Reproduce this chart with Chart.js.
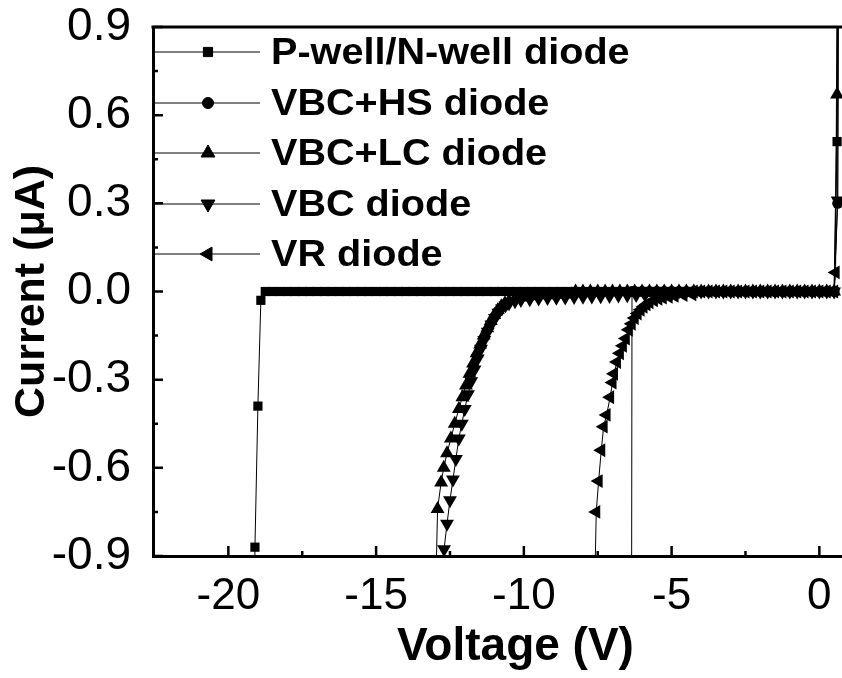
<!DOCTYPE html>
<html>
<head>
<meta charset="utf-8">
<script src="https://cdn.jsdelivr.net/npm/chart.js@4/dist/chart.umd.min.js"></script>
<style>
  html, body { margin: 0; padding: 0; background: #fff; overflow: hidden; }
  #wrap { width: 842px; height: 678px; overflow: hidden; }
</style>
</head>
<body>
<div id="wrap"><canvas id="myChart" width="886" height="678"></canvas></div>
<script>
// series names
const labels = ['P-well/N-well diode', 'VBC+HS diode', 'VBC+LC diode', 'VBC diode', 'VR diode'];

// voltage sweep used for the flat (zero current) part of every curve
const sweepV = [-18.75, -18.5, -18.25, -18, -17.75, -17.5, -17.25, -17, -16.75, -16.5, -16.25, -16,
  -15.75, -15.5, -15.25, -15, -14.75, -14.5, -14.25, -14, -13.75, -13.5, -13.25, -13,
  -12.75, -12.5, -12.25, -12, -11.75, -11.5, -11.25, -11, -10.75, -10.5, -10.25, -10,
  -9.75, -9.5, -9.25, -9, -8.75, -8.5, -8.25, -8, -7.75, -7.5, -7.25, -7,
  -6.75, -6.5, -6.25, -6, -5.75, -5.5, -5.25, -5, -4.75, -4.5, -4.25, -4,
  -3.75, -3.5, -3.25, -3, -2.75, -2.5, -2.25, -2, -1.75, -1.5, -1.25, -1,
  -0.75, -0.5, -0.25, 0, 0.25, 0.5];

// P-well/N-well diode
const pwellRevV = [-19.15, -19.1, -19.0, -18.9];
const pwellRevI = [-1.5, -0.87, -0.39, -0.03];
const pwellFwdV = [0.6, 0.65];
const pwellFwdI = [0.51, 1.5];

// VBC+HS diode
const hsRevV = [-6.36, -6.34];
const hsRevI = [-1.5, 0];
const hsFwdV = [0.62, 0.66];
const hsFwdI = [0.3, 1.5];

// VBC+LC diode
const lcRevV = [-13.0, -12.92, -12.8, -12.71, -12.6, -12.47, -12.34, -12.2, -12.08, -11.96, -11.84,
  -11.72, -11.6, -11.48, -11.36, -11.24, -11.12, -11.0, -10.88, -10.76, -10.64, -10.5, -10.3,
  -10.0, -9.6, -9.2, -8.8, -8.4];
const lcRevI = [-1.1, -0.74, -0.65, -0.6, -0.55, -0.5, -0.45, -0.4, -0.36, -0.32, -0.28,
  -0.245, -0.21, -0.18, -0.15, -0.125, -0.1, -0.08, -0.063, -0.05, -0.04, -0.032, -0.025,
  -0.02, -0.016, -0.013, -0.011, -0.01];
const lcFwdV = [0.6, 0.64];
const lcFwdI = [0.67, 1.5];

// VBC diode
const vbcRevV = [-12.78, -12.7, -12.6, -12.5, -12.4, -12.3, -12.2, -12.1, -12.0, -11.89, -11.78,
  -11.67, -11.56, -11.45, -11.34, -11.22, -11.1, -10.98, -10.86, -10.74, -10.62, -10.5, -10.3,
  -10.1, -9.8, -9.5, -9.2, -8.9, -8.6, -8.3, -8.0, -7.7, -7.4, -7.1, -6.8, -6.5, -6.2, -5.9,
  -5.6, -5.3, -5.0];
const vbcRevI = [-1.1, -0.877, -0.79, -0.71, -0.64, -0.57, -0.5, -0.45, -0.4, -0.35, -0.305,
  -0.265, -0.228, -0.195, -0.165, -0.137, -0.112, -0.09, -0.072, -0.058, -0.047, -0.04, -0.033,
  -0.029, -0.026, -0.024, -0.022, -0.021, -0.02, -0.019, -0.018, -0.017, -0.016, -0.015, -0.014,
  -0.013, -0.012, -0.011, -0.01, -0.009, -0.008];
const vbcFwdV = [0.62, 0.66];
const vbcFwdI = [0.31, 1.5];

// VR diode
const vrRevV = [-7.62, -7.55, -7.47, -7.38, -7.3, -7.2, -7.08, -7.0, -6.95, -6.85, -6.75, -6.65,
  -6.55, -6.45, -6.35, -6.25, -6.15, -6.05, -5.95, -5.85, -5.75, -5.6, -5.45, -5.3, -5.1,
  -4.9, -4.6, -4.3];
const vrRevI = [-1.1, -0.75, -0.645, -0.54, -0.46, -0.42, -0.36, -0.31, -0.28, -0.24, -0.21, -0.185,
  -0.16, -0.13, -0.11, -0.09, -0.075, -0.062, -0.052, -0.044, -0.037, -0.03, -0.025, -0.021, -0.018,
  -0.015, -0.012, -0.01];
const vrFwdV = [0.55, 0.62];
const vrFwdI = [0.065, 1.5];

const xMin = -22.55;
const pxPerVolt = 29.55;   // horizontal scale of the original figure (right part cropped)

function curve(revV, revI, fwdV, fwdI) {
  const pts = revV.map((v, i) => ({x: v, y: revI[i]}));
  const last = revV[revV.length - 1];
  sweepV.filter(v => v > last).forEach(v => pts.push({x: v, y: 0}));
  fwdV.forEach((v, i) => pts.push({x: v, y: fwdI[i]}));
  return pts;
}

const markers = [
  {style: 'rect', radius: 6.5, rotation: 0},
  {style: 'circle', radius: 5.5, rotation: 0},
  {style: 'triangle', radius: 8, rotation: 0},
  {style: 'triangle', radius: 8, rotation: 180},
  {style: 'triangle', radius: 8, rotation: -90}
];

const allData = [
  curve(pwellRevV, pwellRevI, pwellFwdV, pwellFwdI),
  curve(hsRevV, hsRevI, hsFwdV, hsFwdI),
  curve(lcRevV, lcRevI, lcFwdV, lcFwdI),
  curve(vbcRevV, vbcRevI, vbcFwdV, vbcFwdI),
  curve(vrRevV, vrRevI, vrFwdV, vrFwdI)
];

const FONT = 'Liberation Sans, Arial, sans-serif';

// ticks pointing inwards + minor ticks + top frame line + legend
const frame = {
  id: 'frame',
  afterDraw(chart) {
    const ctx = chart.ctx;
    const a = chart.chartArea;
    const xs = chart.scales.x, ys = chart.scales.y;
    ctx.save();
    ctx.strokeStyle = '#000';
    ctx.lineWidth = 2.5;
    ctx.beginPath();
    for (let v = -20; v <= 0; v += 2.5) {
      const px = xs.getPixelForValue(v);
      const len = (v % 5 === 0) ? 10 : 5;
      ctx.moveTo(px, a.bottom);
      ctx.lineTo(px, a.bottom - len);
    }
    for (let k = -6; k <= 6; k++) {
      const py = ys.getPixelForValue(k * 0.15);
      const len = (k % 2 === 0) ? 10 : 5;
      ctx.moveTo(a.left, py);
      ctx.lineTo(a.left + len, py);
    }
    ctx.stroke();
    ctx.lineWidth = 3;
    ctx.beginPath();
    ctx.moveTo(a.left - 1.5, a.top);
    ctx.lineTo(a.right, a.top);
    ctx.lineTo(a.right, a.bottom);
    ctx.stroke();

    const rows = [52, 103, 153, 204, 254];
    labels.forEach((lab, i) => {
      const y = rows[i];
      ctx.lineWidth = 1;
      ctx.strokeStyle = '#000';
      ctx.beginPath();
      ctx.moveTo(a.left, y);
      ctx.lineTo(260, y);
      ctx.stroke();
      ctx.fillStyle = '#000';
      Chart.helpers.drawPoint(ctx, {pointStyle: markers[i].style, radius: markers[i].radius,
        rotation: markers[i].rotation, borderWidth: 1}, 208, y);
      ctx.save();
      ctx.translate(271, y);
      ctx.scale(1.1, 1);
      ctx.font = 'bold 36px ' + FONT;
      ctx.textBaseline = 'middle';
      ctx.fillText(lab, 0, 2);
      ctx.restore();
    });
    ctx.restore();
  }
};

const ctx = document.getElementById('myChart').getContext('2d');
const myChart = new Chart(ctx, {
  type: 'scatter',
  data: {
    datasets: labels.map((lab, i) => ({
      label: lab,
      data: allData[i],
      showLine: true,
      borderColor: '#000',
      backgroundColor: '#000',
      borderWidth: 1,
      pointStyle: markers[i].style,
      pointRadius: markers[i].radius,
      pointRotation: markers[i].rotation,
      pointBorderWidth: 0,
      pointHoverRadius: 0
    }))
  },
  options: {
    responsive: false,
    animation: false,
    layout: { padding: { top: 27, right: 0, left: 0, bottom: 0 } },
    plugins: { legend: { display: false }, tooltip: { enabled: false } },
    scales: {
      x: {
        type: 'linear',
        min: xMin,
        max: 2,
        afterFit: (s) => { s.height = 122; s.paddingLeft = 0; s.paddingRight = 0; },
        ticks: {
          stepSize: 5,
          includeBounds: false,
          color: '#000',
          padding: 14,
          font: { size: 44, family: FONT },
          maxRotation: 0
        },
        grid: { display: false, drawTicks: false },
        border: { display: true, color: '#000', width: 3 },
        title: {
          display: true,
          text: 'Voltage (V)',
          color: '#000',
          font: { size: 46, weight: 'bold', family: FONT },
          padding: { top: 0, bottom: 3 }
        }
      },
      y: {
        type: 'linear',
        min: -0.9,
        max: 0.9,
        afterFit: (s) => { s.width = 153; s.paddingTop = 0; s.paddingBottom = 0; },
        ticks: {
          stepSize: 0.3,
          color: '#000',
          padding: 22,
          font: { size: 46, family: FONT },
          callback: (v) => Math.abs(v) < 1e-9 ? '0.0' : Number(v).toFixed(1)
        },
        grid: { display: false, drawTicks: false },
        border: { display: true, color: '#000', width: 3 },
        title: {
          display: true,
          text: 'Current (μA)',
          color: '#000',
          font: { size: 43, weight: 'bold', family: FONT },
          padding: { top: 6, bottom: 0 }
        }
      }
    }
  },
  plugins: [frame]
});

// set the right end of the x range so that the volt spacing matches the original figure
const area = myChart.chartArea;
myChart.options.scales.x.max = xMin + (area.right - area.left) / pxPerVolt;
myChart.update();
</script>
</body>
</html>
